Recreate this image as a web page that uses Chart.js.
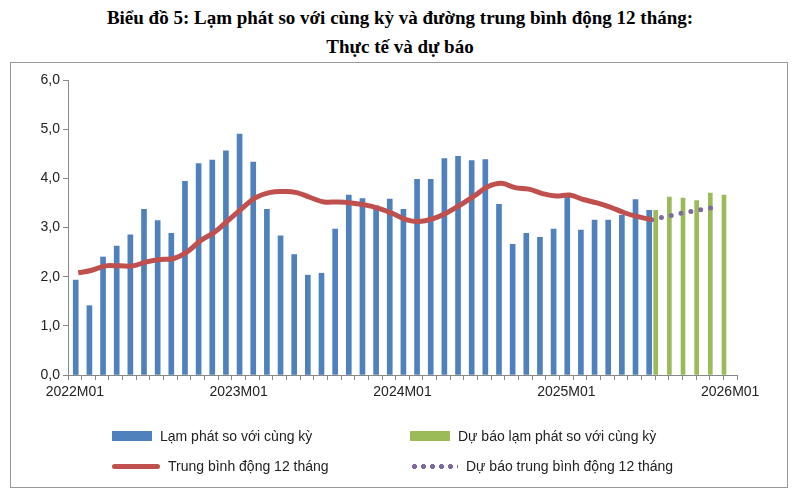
<!DOCTYPE html>
<html><head><meta charset="utf-8">
<script src="https://cdn.jsdelivr.net/npm/chart.js@4"></script>
<style>
body{margin:0;width:800px;height:500px;background:#fff;position:relative;font-family:Arial,"Liberation Sans",sans-serif;}
#title{position:absolute;top:3px;left:0;width:800px;text-align:center;font:bold 19px "Liberation Serif",serif;line-height:29px;color:#000;}
#frame{position:absolute;left:10px;top:62px;width:778px;height:426px;border:1px solid #999;box-sizing:border-box;}
#wrap{position:absolute;left:0;top:60px;width:800px;height:440px;}
.lg{position:absolute;font-size:14px;color:#222;display:flex;align-items:center;}
.sw{display:inline-block;margin-right:8px;}
</style></head><body>
<div id="title">Biểu đồ 5: Lạm phát so với cùng kỳ và đường trung bình động 12 tháng:<br>Thực tế và dự báo</div>
<div id="frame"></div>
<div id="wrap"><canvas id="c" width="800" height="440"></canvas></div>
<div class="lg" style="left:112px;top:428px"><span class="sw" style="width:40px;height:10px;background:#4f81bd"></span>Lạm phát so với cùng kỳ</div>
<div class="lg" style="left:410px;top:428px"><span class="sw" style="width:40px;height:10px;background:#9bbb59"></span>Dự báo lạm phát so với cùng kỳ</div>
<div class="lg" style="left:112px;top:458px"><span class="sw" style="width:48px;height:5px;background:#c0504d;border-radius:3px"></span>Trung bình động 12 tháng</div>
<div class="lg" style="left:410px;top:458px"><span class="sw" style="width:48px;height:5px;background:radial-gradient(circle,#7f6a9e 45%,transparent 50%) 0 0/9px 5px repeat-x"></span>Dự báo trung bình động 12 tháng</div>
<script>
const tickLabels = {0:"2022M01",12:"2023M01",24:"2024M01",36:"2025M01",48:"2026M01"};
const actualCPI = [1.93,1.41,2.40,2.62,2.85,3.37,3.14,2.88,3.94,4.30,4.37,4.56,4.90,4.33,3.37,2.83,2.45,2.03,2.07,2.97,3.66,3.59,3.44,3.58,
  3.37,3.98,3.98,4.40,4.45,4.36,4.38,3.47,2.66,2.88,2.80,2.97,3.64,2.95,3.15,3.15,3.25,3.57,3.35];
const forecastStart = 42;
const forecastCPI = [3.35,3.62,3.60,3.55,3.70,3.66];
const ma12 = [2.08,2.13,2.22,2.22,2.22,2.30,2.35,2.37,2.51,2.74,2.91,3.15,3.39,3.61,3.71,3.73,3.71,3.61,3.52,3.52,3.50,3.46,3.39,3.29,
  3.16,3.12,3.18,3.30,3.46,3.64,3.83,3.90,3.81,3.78,3.69,3.64,3.66,3.57,3.50,3.41,3.30,3.22,3.16];
const forecastMA = [3.16,3.22,3.28,3.33,3.38,3.43];
const pts = (arr, start) => arr.map((v,i)=>({x:start+i+0.25,y:v}));
new Chart(document.getElementById('c'),{
  data:{datasets:[
    {type:'line',data:pts(ma12,0),borderColor:'#c0504d',borderWidth:5,pointRadius:0,tension:0.4,order:1},
    {type:'line',data:pts(forecastMA,forecastStart),borderColor:'#7f6a9e',borderWidth:5,borderDash:[0,10],borderCapStyle:'round',pointRadius:0,order:2},
    {type:'bar',data:pts(actualCPI,0),backgroundColor:'#4f81bd',barThickness:5,order:3},
    {type:'bar',data:pts(forecastCPI,forecastStart).map(p=>({x:p.x+0.15,y:p.y})),backgroundColor:'#9bbb59',barThickness:4,order:4}
  ]},
  options:{responsive:false,animation:false,
    layout:{padding:{left:10,right:63,top:20,bottom:0}},
    plugins:{legend:{display:false},tooltip:{enabled:false}},
    scales:{
      x:{type:'linear',min:0,max:48,
        afterFit:s=>{s.height=125;},
        afterBuildTicks:s=>{s.ticks=[];for(let i=0;i<=48;i++)s.ticks.push({value:i});},
        ticks:{autoSkip:false,maxRotation:0,color:'#222',font:{size:14},padding:4,callback:v=>tickLabels[v]||''},
        grid:{drawOnChartArea:false,tickLength:5,color:'#888'},border:{color:'#888'}},
      y:{min:0,max:6,afterFit:s=>{s.width=58;},
        ticks:{stepSize:1,color:'#222',font:{size:14},callback:v=>v.toFixed(1).replace('.',',')},
        grid:{drawOnChartArea:false,tickLength:5,color:'#888'},border:{color:'#888'}}
    }}
});
</script></body></html>
